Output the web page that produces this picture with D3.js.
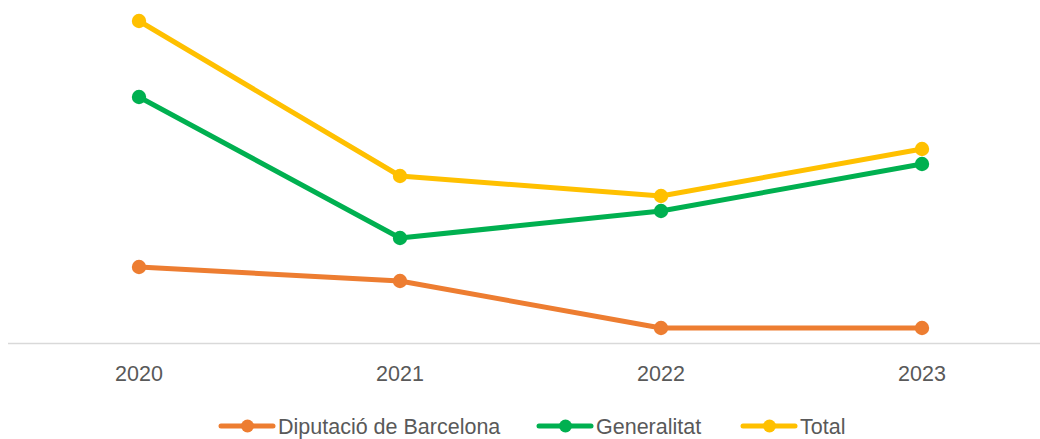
<!DOCTYPE html>
<html><head><meta charset="utf-8">
<script src="https://cdn.jsdelivr.net/npm/d3@7"></script>
<style>body{margin:0;background:#fff}svg{display:block}</style>
</head><body>
<svg id="c" width="1040" height="439"></svg>
<script>
const years = ["2020","2021","2022","2023"];
const diputacio = [7.6, 6.2, 1.5, 1.5];
const generalitat = [24.6, 10.5, 13.2, 17.9];
const total = [32.2, 16.7, 14.7, 19.4];
const seriesNames = ["Diputació de Barcelona","Generalitat","Total"];
const seriesColors = ["#ED7D31","#00B050","#FFC000"];

const svg = d3.select("#c");
const font = "'Liberation Sans', Arial, sans-serif";
const fs = 21.5;
const x = d3.scaleBand().domain(years).range([8.5, 1052.5]);
const y = d3.scaleLinear().domain([0, 33.5]).range([343, 8]);

svg.append("line").attr("x1",8).attr("x2",1040).attr("y1",343.5).attr("y2",343.5)
  .attr("stroke","#d9d9d9").attr("stroke-width",1.5);

const xa = svg.append("g").attr("transform","translate(0,343)")
  .call(d3.axisBottom(x).tickSize(0).tickPadding(23));
xa.select(".domain").remove();
xa.selectAll("text").attr("font-family",font).attr("font-size",fs).attr("fill","#595959");

const data = [diputacio, generalitat, total];
const cx = d => x(d) + x.bandwidth()/2;
const line = d3.line().x((d,i)=>cx(years[i])).y(d=>y(d));
data.forEach((s,k)=>{
  svg.append("path").datum(s).attr("d",line).attr("fill","none")
    .attr("stroke",seriesColors[k]).attr("stroke-width",5).attr("stroke-linejoin","round");
  svg.selectAll(null).data(s).enter().append("circle")
    .attr("cx",(d,i)=>cx(years[i])).attr("cy",d=>y(d)).attr("r",7.2).attr("fill",seriesColors[k]);
});

const legX = [219, 537, 741];
seriesNames.forEach((n,k)=>{
  const g = svg.append("g").attr("transform",`translate(${legX[k]},426)`);
  g.append("line").attr("x1",2).attr("x2",54).attr("stroke",seriesColors[k]).attr("stroke-width",5).attr("stroke-linecap","round");
  g.append("circle").attr("cx",28.5).attr("r",6.5).attr("fill",seriesColors[k]);
  g.append("text").attr("x",59).attr("dy","0.35em").text(n).attr("font-family",font).attr("font-size",fs).attr("fill","#595959");
});
</script>
</body></html>
